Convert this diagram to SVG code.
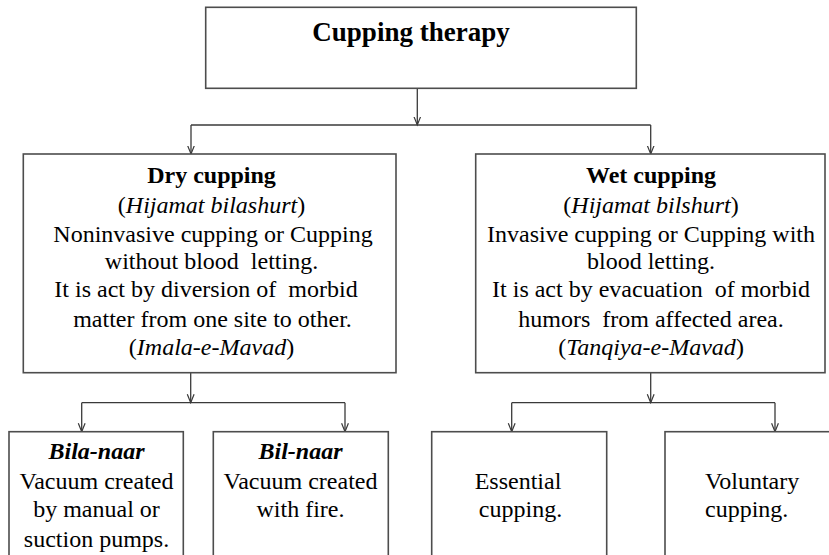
<svg xmlns="http://www.w3.org/2000/svg" width="829" height="555" viewBox="0 0 829 555">
  <style>
    .box { fill: #ffffff; stroke: #4d4d4d; stroke-width: 1.6; }
    .conn { fill: none; stroke: #3a3a3a; stroke-width: 1.3; }
  </style>
  <defs>
    <marker id="arr" markerUnits="userSpaceOnUse" markerWidth="10" markerHeight="10" viewBox="0 0 10 10" refX="8.5" refY="4" orient="auto">
      <path d="M0,0.6 L8.5,4 L0,7.4" fill="none" stroke="#3a3a3a" stroke-width="1.2"/>
    </marker>
  </defs>
  <rect width="829" height="555" fill="#ffffff"/>

  <g id="connectors">
    <line class="conn" x1="417.3" y1="88.5" x2="417.3" y2="125" marker-end="url(#arr)"/>
    <polyline class="conn" points="191,125 650.7,125"/>
    <line class="conn" x1="191" y1="125" x2="191" y2="154" marker-end="url(#arr)"/>
    <line class="conn" x1="650.7" y1="125" x2="650.7" y2="154" marker-end="url(#arr)"/>
    <line class="conn" x1="190.7" y1="372.7" x2="190.7" y2="402.7" marker-end="url(#arr)"/>
    <polyline class="conn" points="81.7,402.7 345,402.7"/>
    <line class="conn" x1="81.7" y1="402.7" x2="81.7" y2="431.7" marker-end="url(#arr)"/>
    <line class="conn" x1="345" y1="402.7" x2="345" y2="431.7" marker-end="url(#arr)"/>
    <line class="conn" x1="650.7" y1="372.7" x2="650.7" y2="402.7" marker-end="url(#arr)"/>
    <polyline class="conn" points="511.7,402.7 775,402.7"/>
    <line class="conn" x1="511.7" y1="402.7" x2="511.7" y2="431.7" marker-end="url(#arr)"/>
    <line class="conn" x1="775" y1="402.7" x2="775" y2="431.7" marker-end="url(#arr)"/>
  </g>

  <g id="cupping-therapy">
    <rect class="box" x="205.7" y="7.3" width="430.6" height="81"/>
    <text font-family="Liberation Serif" font-size="27" font-weight="bold" text-anchor="middle" x="411" y="41">Cupping therapy</text>
  </g>

  <g id="dry-cupping" font-family="Liberation Serif" font-size="24" text-anchor="middle">
    <rect class="box" x="23.3" y="154" width="372.7" height="218.7"/>
    <text font-family="Liberation Serif" font-weight="bold" x="211.5" y="183">Dry cupping</text>
    <text font-family="Liberation Serif" x="211.5" y="213">(<tspan font-style="italic">Hijamat bilashurt</tspan>)</text>
    <text font-family="Liberation Serif" x="213" y="241.5">Noninvasive cupping or Cupping</text>
    <text font-family="Liberation Serif" x="211.5" y="268.5" xml:space="preserve">without blood  letting.</text>
    <text font-family="Liberation Serif" x="206" y="297" xml:space="preserve">It is act by diversion of  morbid</text>
    <text font-family="Liberation Serif" x="212.5" y="326.5">matter from one site to other.</text>
    <text font-family="Liberation Serif" x="211.5" y="355">(<tspan font-style="italic">Imala-e-Mavad</tspan>)</text>
  </g>

  <g id="wet-cupping" font-family="Liberation Serif" font-size="24" text-anchor="middle">
    <rect class="box" x="475.7" y="154" width="349.3" height="218.7"/>
    <text font-family="Liberation Serif" font-weight="bold" x="651" y="183">Wet cupping</text>
    <text font-family="Liberation Serif" x="651" y="213">(<tspan font-style="italic">Hijamat bilshurt</tspan>)</text>
    <text font-family="Liberation Serif" x="651" y="241.5">Invasive cupping or Cupping with</text>
    <text font-family="Liberation Serif" x="651" y="268.5">blood letting.</text>
    <text font-family="Liberation Serif" x="651" y="297" xml:space="preserve">It is act by evacuation  of morbid</text>
    <text font-family="Liberation Serif" x="651" y="326.5" xml:space="preserve">humors  from affected area.</text>
    <text font-family="Liberation Serif" x="651" y="355">(<tspan font-style="italic">Tanqiya-e-Mavad</tspan>)</text>
  </g>

  <g id="bila-naar" font-family="Liberation Serif" font-size="24" text-anchor="middle">
    <rect class="box" x="9" y="431.7" width="174.3" height="140"/>
    <text font-family="Liberation Serif" font-weight="bold" font-style="italic" x="96.5" y="458.5">Bila-naar</text>
    <text font-family="Liberation Serif" x="96.5" y="488.5">Vacuum created</text>
    <text font-family="Liberation Serif" x="96.5" y="517">by manual or</text>
    <text font-family="Liberation Serif" x="96.5" y="546.5">suction pumps.</text>
  </g>

  <g id="bil-naar" font-family="Liberation Serif" font-size="24" text-anchor="middle">
    <rect class="box" x="213.3" y="431.7" width="175" height="140"/>
    <text font-family="Liberation Serif" font-weight="bold" font-style="italic" x="300.5" y="458.5">Bil-naar</text>
    <text font-family="Liberation Serif" x="300.5" y="488.5">Vacuum created</text>
    <text font-family="Liberation Serif" x="300.5" y="517">with fire.</text>
  </g>

  <g id="essential-cupping" font-family="Liberation Serif" font-size="24" text-anchor="middle">
    <rect class="box" x="431.7" y="431.7" width="175" height="140"/>
    <text font-family="Liberation Serif" x="518" y="488.5">Essential</text>
    <text font-family="Liberation Serif" x="520.5" y="517">cupping.</text>
  </g>

  <g id="voluntary-cupping" font-family="Liberation Serif" font-size="24">
    <rect class="box" x="665" y="431.7" width="180" height="140"/>
    <text font-family="Liberation Serif" x="705" y="488.5">Voluntary</text>
    <text font-family="Liberation Serif" x="705" y="517">cupping.</text>
  </g>
</svg>
